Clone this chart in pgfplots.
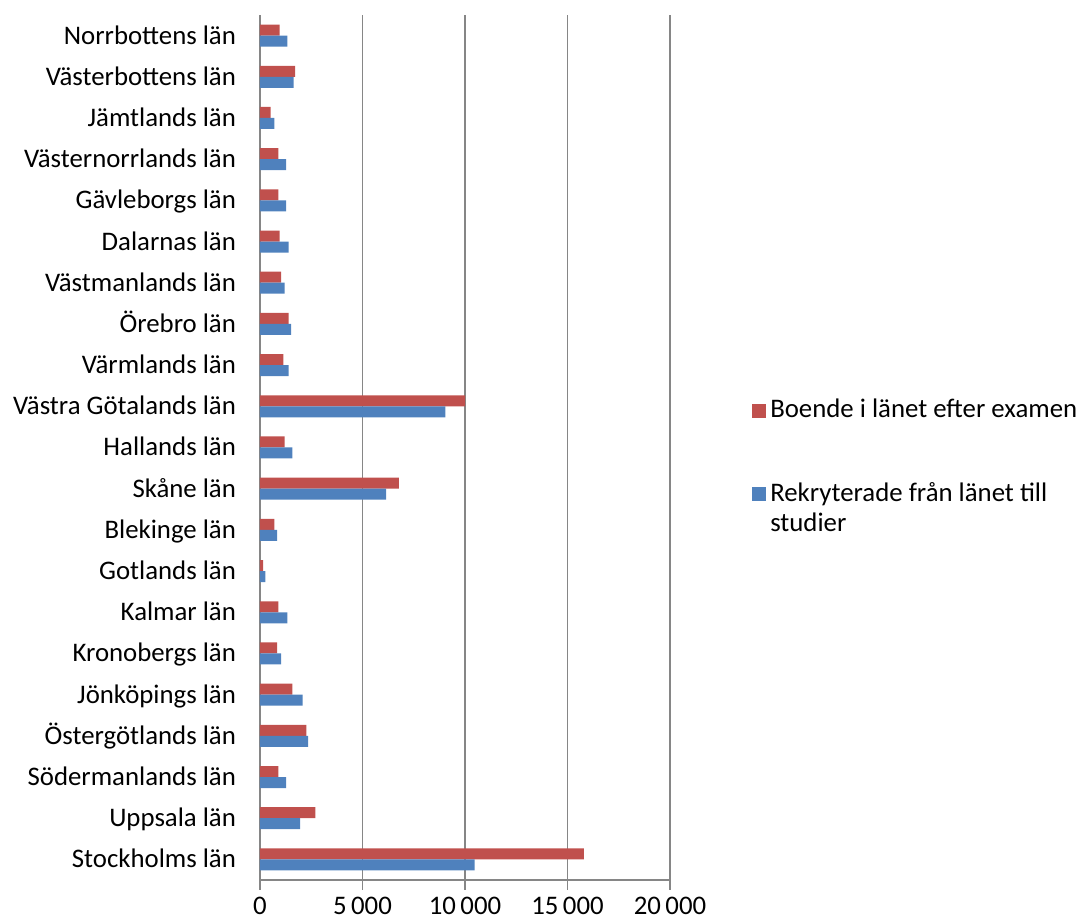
\documentclass[border=0pt]{standalone}
\usepackage{fontspec}
\setmainfont{Carlito}
\usepackage{pgfplots}
\usepackage{pgfplotstable}
\pgfplotsset{compat=1.18}

\definecolor{bred}{RGB}{192,80,77}
\definecolor{bblue}{RGB}{79,129,189}
\definecolor{axgray}{RGB}{134,134,134}

% y index, Boende (red), Rekryterade (blue)
\pgfplotstableread{
y  boende rekr
0  15795  10470
1  2700   1955
2  895    1270
3  2265   2345
4  1580   2085
5  830    1025
6  895    1335
7  150    260
8  700    830
9  6775   6155
10 1205   1580
11 10000  9040
12 1140   1400
13 1400   1515
14 1025   1205
15 960    1400
16 895    1270
17 895    1270
18 520    700
19 1710   1645
20 960    1335
}\lan

\begin{document}
\begin{tikzpicture}[font=\fontsize{13.4}{16}\selectfont]
\path[use as bounding box] (-130pt,-22pt) rectangle (410pt,440pt);
\begin{axis}[
  at={(0,0)}, anchor=south west,
  scale only axis,
  width=205pt, height=432.5pt,
  xmin=0, xmax=20000,
  ymin=-0.5, ymax=20.5,
  axis x line=bottom, axis y line=left,
  axis line style={-, axgray, line width=0.75pt},
  xtick={0,5000,...,20000},
  xmajorgrids,
  major grid style={axgray, line width=0.6pt},
  tick align=outside,
  major tick length=5pt, minor tick length=5pt,
  xtick style={axgray, line width=0.75pt},
  ytick={0,...,20},
  ytick style={draw=none},
  minor ytick={-0.5,0.5,...,20.5},
  minor y tick style={axgray, line width=0.75pt},
  yticklabels={Stockholms län, Uppsala län, Södermanlands län, Östergötlands län, Jönköpings län, Kronobergs län, Kalmar län, Gotlands län, Blekinge län, Skåne län, Hallands län, Västra Götalands län, Värmlands län, Örebro län, Västmanlands län, Dalarnas län, Gävleborgs län, Västernorrlands län, Jämtlands län, Västerbottens län, Norrbottens län},
  yticklabel style={xshift=-3.5pt, yshift=-1pt, text height=9.5pt, text depth=3pt},
  xticklabel style={anchor=north, inner ysep=0pt, yshift=-3.5pt},
  scaled x ticks=false,
  /pgf/number format/assume math mode=true,
  /pgf/number format/1000 sep={\,},
  legend style={at={(axis description cs:1.185,0.495)}, anchor=west, draw=none, fill=none,
    cells={anchor=base west}, row sep=25pt},
]
\addplot[xbar, bar width=5.5pt, bar shift=2.75pt, fill=bred, draw=none,
  legend image code/.code={\fill[bred] (-1.5pt,0pt) rectangle (5.5pt,7pt);}]
  table[x=boende, y=y] {\lan};
\addlegendentry{Boende i länet efter examen}
\addplot[xbar, bar width=5.5pt, bar shift=-2.75pt, fill=bblue, draw=none,
  legend image code/.code={\fill[bblue] (-1.5pt,0pt) rectangle (5.5pt,7pt);}]
  table[x=rekr, y=y] {\lan};
\addlegendentry{\begin{tabular}[t]{@{}l@{}}Rekryterade från länet till\\[-1pt]studier\end{tabular}}
\end{axis}
\end{tikzpicture}
\end{document}
